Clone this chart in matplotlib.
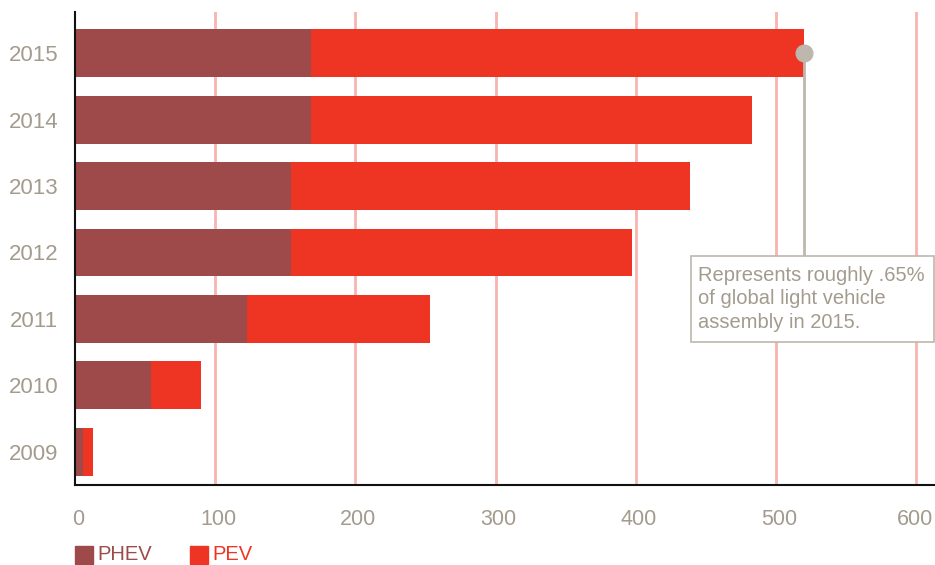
import matplotlib.pyplot as plt
from matplotlib.patches import Rectangle
from matplotlib.transforms import ScaledTranslation

# data
years = ['2009', '2010', '2011', '2012', '2013', '2014', '2015']
phev = [6, 54, 123, 154, 154, 168, 168]
pev = [7, 36, 130, 243, 285, 315, 352]
x_ticks = [0, 100, 200, 300, 400, 500, 600]
note = 'Represents roughly .65%\nof global light vehicle\nassembly in 2015.'

# colours
c_phev = '#9E4A4A'
c_pev = '#EE3524'
c_grid = '#F7B4B0'
c_text = '#A39C8E'
c_note = '#BDB7AD'

plt.rcParams['font.family'] = ['Liberation Sans', 'DejaVu Sans']

fig = plt.figure(figsize=(9.35, 5.65), dpi=100)
ax = fig.add_axes([75 / 935, 1 - 485 / 565, 1 - 75 / 935, (485 - 12) / 565])

pos = list(range(len(years)))
totals = [a + b for a, b in zip(phev, pev)]

# gridlines behind the bars
for t in x_ticks[1:]:
    ax.axvline(t, color=c_grid, lw=2, zorder=0)

ax.barh(pos, phev, height=0.72, color=c_phev, zorder=2)
ax.barh(pos, pev, left=phev, height=0.72, color=c_pev, zorder=2)

ax.set_xlim(0, 613.5)
ax.set_ylim(-0.5, 6.62)

# axes styling
for s in ['top', 'right']:
    ax.spines[s].set_visible(False)
for s in ['left', 'bottom']:
    ax.spines[s].set_linewidth(1.5)
    ax.spines[s].set_color('#111111')

ax.set_yticks(pos)
ax.set_yticklabels(years)
ax.set_xticks(x_ticks)
ax.set_xticklabels([str(t) for t in x_ticks])
ax.tick_params(axis='y', length=0, pad=12, labelsize=16, labelcolor=c_text)
ax.tick_params(axis='x', length=0, pad=17, labelsize=15.5, labelcolor=c_text)
# nudge the labels a little right, but keep the last one inside the figure
for lab in ax.get_xticklabels()[:-1]:
    lab.set_transform(lab.get_transform() + ScaledTranslation(3 / 100, 0, fig.dpi_scale_trans))
last = ax.get_xticklabels()[-1]
last.set_transform(last.get_transform() + ScaledTranslation(-1 / 100, 0, fig.dpi_scale_trans))

# annotation on the 2015 total
box_left, box_right = 439.5, 613
box_bottom, box_top = 1.654, 2.947
ax.plot([totals[-1], totals[-1]], [pos[-1], box_top], color=c_note, lw=2, zorder=3,
        clip_on=False)
ax.plot(totals[-1], pos[-1], 'o', ms=12, color=c_note, zorder=4, clip_on=False)
ax.add_patch(Rectangle((box_left, box_bottom), box_right - box_left, box_top - box_bottom,
                       facecolor='white', edgecolor=c_note, lw=1.2, zorder=5, clip_on=False))
ax.text(box_left + 5, (box_top + box_bottom) / 2, note, color=c_text, fontsize=14.5,
        va='center', ha='left', linespacing=1.3, zorder=6)

# legend drawn by hand at the bottom
def px(x, y):
    return x / 935, 1 - y / 565

for x0, label, col in [(75, 'PHEV', c_phev), (190, 'PEV', c_pev)]:
    fig.patches.append(Rectangle(px(x0, 564), 18 / 935, 18 / 565, color=col,
                                 transform=fig.transFigure, figure=fig))
    fig.text(*px(x0 + 22, 560), label, color=col, fontsize=14.5, va='baseline', ha='left')

fig.savefig('out.png', dpi=100)
